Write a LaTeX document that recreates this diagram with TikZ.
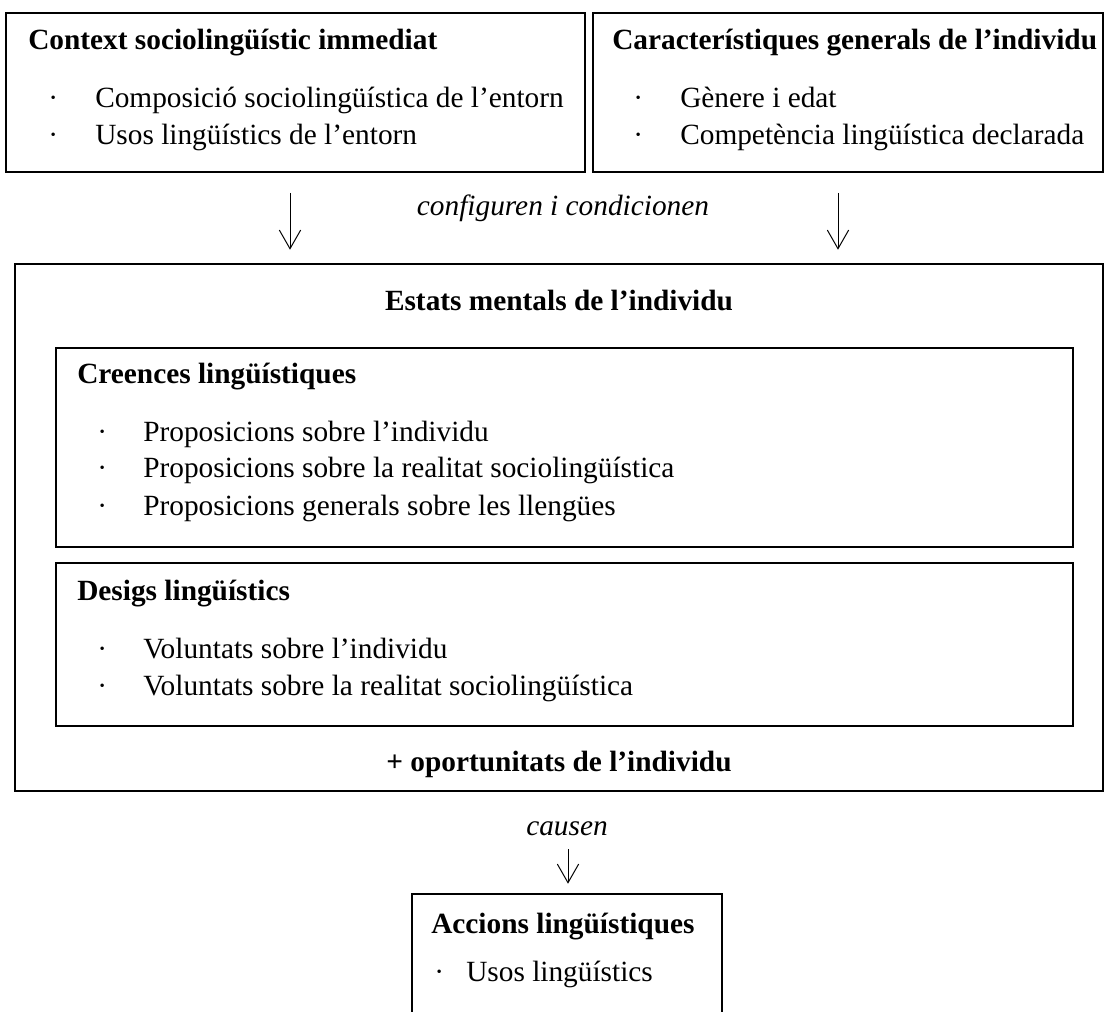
\documentclass[tikz,border=0pt]{standalone}
\usepackage{fontspec}
\setmainfont{Liberation Serif}
\usetikzlibrary{arrows.meta,fit}
\begin{document}
\begin{tikzpicture}[x=0.75pt,y=-0.75pt,
  box/.style={draw, line width=1.4pt, inner sep=0pt},
  ttl/.style={font=\fontsize{22}{26}\selectfont\bfseries, anchor=base west, inner sep=0pt},
  ttlc/.style={font=\fontsize{22}{26}\selectfont\bfseries, anchor=base, inner sep=0pt},
  itm/.style={font=\fontsize{22}{26}\selectfont, anchor=base west, inner sep=0pt},
  lbl/.style={font=\fontsize{22}{26}\selectfont\itshape, anchor=base, inner sep=0pt},
  arr/.style={-{Straight Barb[length=14pt,width=16pt]}, line width=0.75pt}]
\clip (0,0) rectangle (1107,1012);
\fill[white] (0,0) rectangle (1107,1012);

% top boxes
\node[box, fit={(6,13) (585,172)}] (ctx) {};
\node[ttl] (ctxT) at (28,50) {Context sociolingüístic immediat};
\node[itm] (ctxB1) at (48,108) {·};
\node[itm] (ctxI1) at (95,108) {Composició sociolingüística de l’entorn};
\node[itm] (ctxB2) at (48,145) {·};
\node[itm] (ctxI2) at (95,145) {Usos lingüístics de l’entorn};

\node[box, fit={(593,13) (1103,172)}] (car) {};
\node[ttl] (carT) at (612,50) {Característiques generals de l’individu};
\node[itm] (carB1) at (633,108) {·};
\node[itm] (carI1) at (680,108) {Gènere i edat};
\node[itm] (carB2) at (633,145) {·};
\node[itm] (carI2) at (680,145) {Competència lingüística declarada};

% outer box
\node[box, fit={(15,264) (1103,791)}] (est) {};
\node[ttlc] (estT) at (559,311) {Estats mentals de l’individu};

\node[box, fit={(56,348) (1073,547)}] (cre) {};
\node[ttl] (creT) at (77,384) {Creences lingüístiques};
\node[itm] (creB1) at (97,442) {·};
\node[itm] (creI1) at (143,442) {Proposicions sobre l’individu};
\node[itm] (creB2) at (97,478) {·};
\node[itm] (creI2) at (143,478) {Proposicions sobre la realitat sociolingüística};
\node[itm] (creB3) at (97,515) {·};
\node[itm] (creI3) at (143,515) {Proposicions generals sobre les llengües};

\node[box, fit={(56,563) (1073,726)}] (des) {};
\node[ttl] (desT) at (77,600) {Desigs lingüístics};
\node[itm] (desB1) at (97,658) {·};
\node[itm] (desI1) at (143,658) {Voluntats sobre l’individu};
\node[itm] (desB2) at (97,695) {·};
\node[itm] (desI2) at (143,695) {Voluntats sobre la realitat sociolingüística};

\node[ttlc] (opo) at (559,771) {+ oportunitats de l’individu};

% bottom box
\node[box, fit={(412,894) (722,1030)}] (acc) {};
\node[ttl] (accT) at (431,933) {Accions lingüístiques};
\node[itm] (accB1) at (434,981) {·};
\node[itm] (accI1) at (466,981) {Usos lingüístics};

% connectors
\coordinate (xa) at (290,0);
\coordinate (xb) at (838,0);
\coordinate (xc) at (568,0);
\draw[arr, shorten <=15pt, shorten >=10pt] (ctx.south -| xa) -- (est.north -| xa);
\draw[arr, shorten <=15pt, shorten >=10pt] (car.south -| xb) -- (est.north -| xb);
\draw[arr, shorten <=43pt, shorten >=7pt] (est.south -| xc) -- (acc.north -| xc);

\node[lbl] (conf) at (563,216) {configuren i condicionen};
\node[lbl] (cau) at (567,835) {causen};
\end{tikzpicture}
\end{document}
